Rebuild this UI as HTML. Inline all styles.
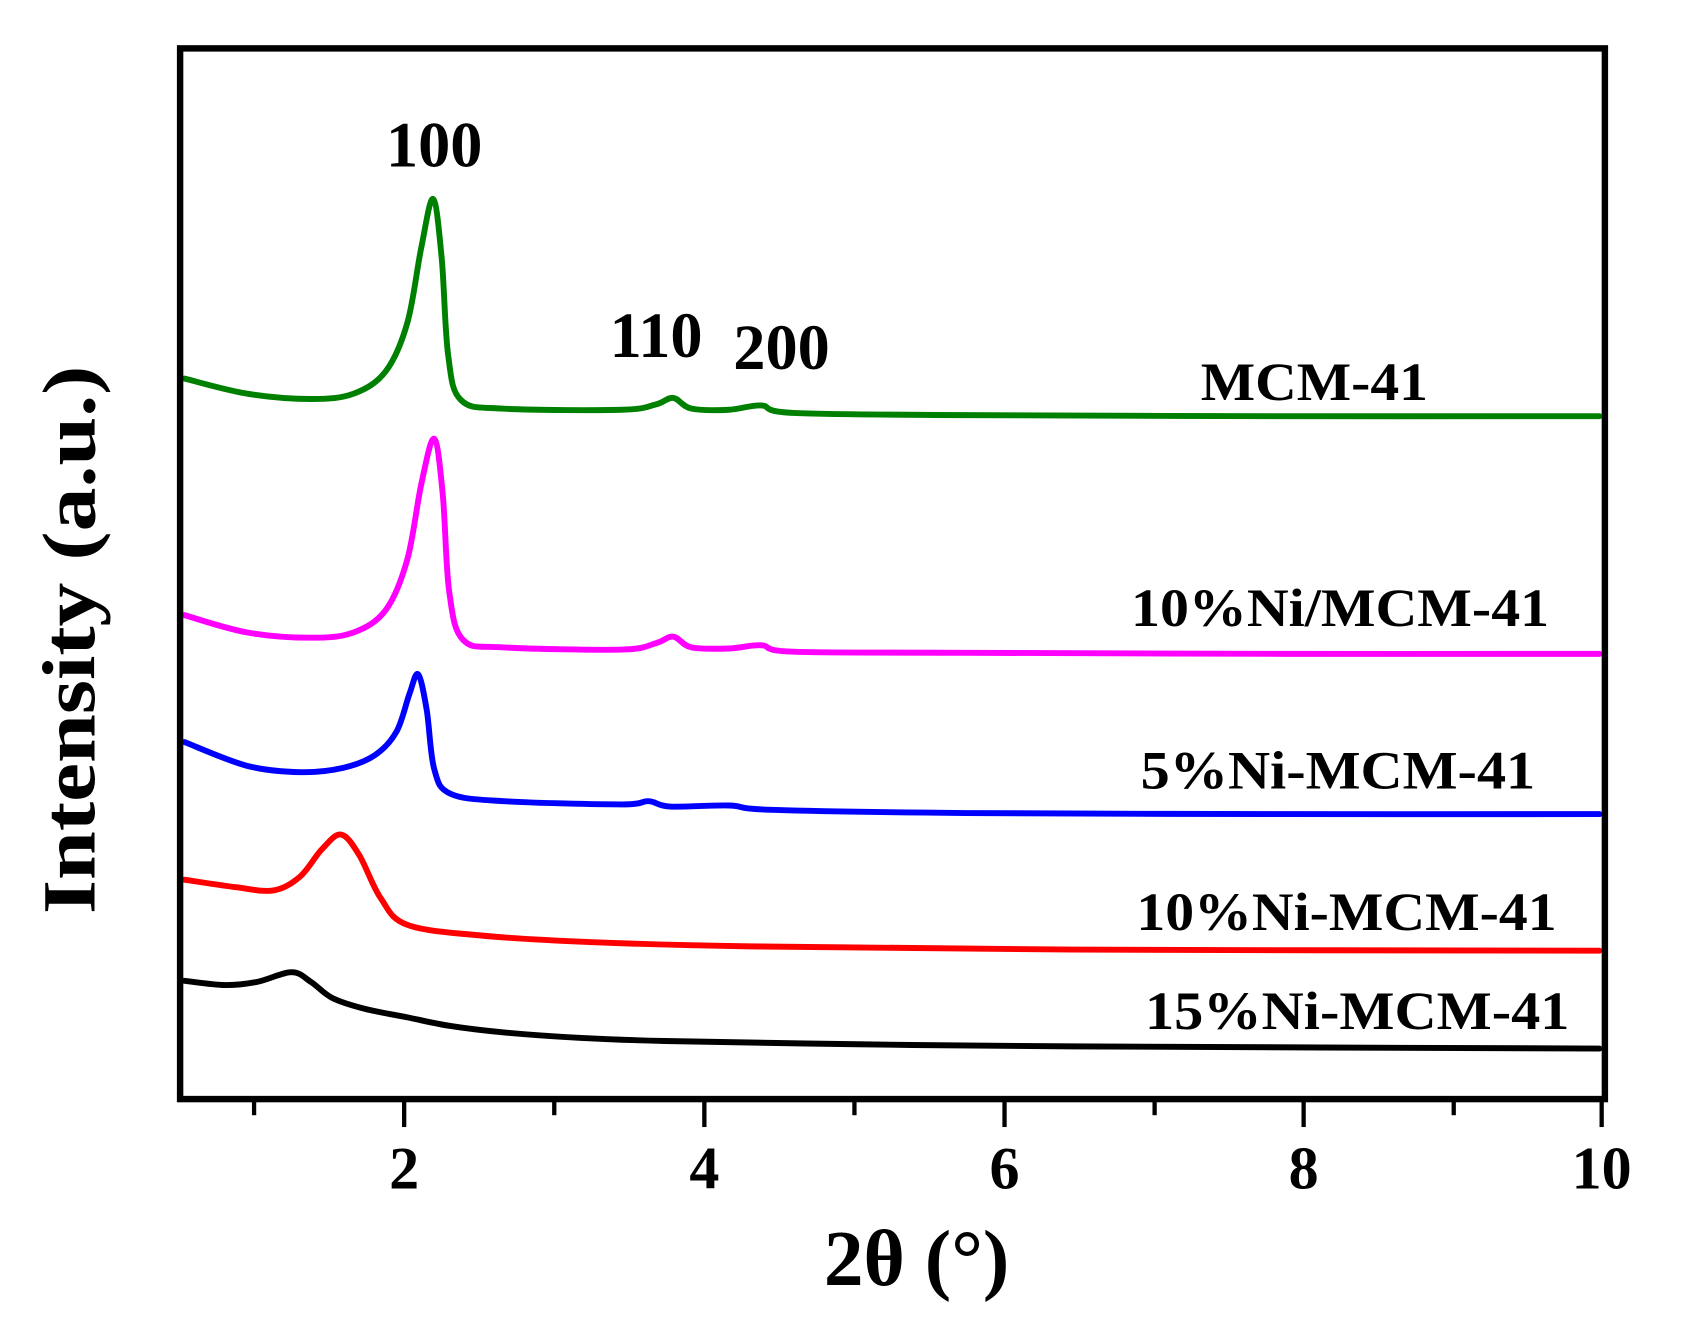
<!DOCTYPE html>
<html><head><meta charset="utf-8"><style>
html,body{margin:0;padding:0;background:#fff;}
svg{display:block;}
text{font-family:"Liberation Serif",serif;font-weight:bold;fill:#000;}
</style></head><body>
<svg id="s" width="1681" height="1326" viewBox="0 0 1568 1233" preserveAspectRatio="none" xmlns="http://www.w3.org/2000/svg">
<rect x="0" y="0" width="1568" height="1233" fill="#fff"/>
<g id="curves" fill="none" stroke-width="5.5" stroke-linejoin="round" stroke-linecap="round"></g>
<rect x="168" y="45" width="1329" height="977" fill="none" stroke="#000" stroke-width="6"/>
<g stroke="#000" stroke-width="4">
<line x1="237" y1="1022" x2="237" y2="1037"/>
<line x1="377" y1="1022" x2="377" y2="1048"/>
<line x1="517" y1="1022" x2="517" y2="1037"/>
<line x1="657" y1="1022" x2="657" y2="1048"/>
<line x1="797" y1="1022" x2="797" y2="1037"/>
<line x1="937" y1="1022" x2="937" y2="1048"/>
<line x1="1077" y1="1022" x2="1077" y2="1037"/>
<line x1="1216" y1="1022" x2="1216" y2="1048"/>
<line x1="1356" y1="1022" x2="1356" y2="1037"/>
<line x1="1494" y1="1022" x2="1494" y2="1048"/>
</g>
<g font-size="56" text-anchor="middle">
<text x="377" y="1105">2</text>
<text x="657" y="1105">4</text>
<text x="937" y="1105">6</text>
<text x="1216" y="1105">8</text>
<text x="1494" y="1105">10</text>
</g>
<text x="855" y="1195" font-size="74" text-anchor="middle">2θ (°)</text>
<text transform="translate(88,595) rotate(-90)" font-size="70" text-anchor="middle" textLength="510" lengthAdjust="spacingAndGlyphs">Intensity (a.u.)</text>
<text x="405" y="155" font-size="60" text-anchor="middle">100</text>
<text x="612" y="332" font-size="60" text-anchor="middle">110</text>
<text x="729" y="343" font-size="60" text-anchor="middle">200</text>
<g font-size="50" text-anchor="middle">
<text x="1226" y="372" textLength="212" lengthAdjust="spacingAndGlyphs">MCM-41</text>
<text x="1250" y="582" textLength="390" lengthAdjust="spacingAndGlyphs">10%Ni/MCM-41</text>
<text x="1248" y="733" textLength="368" lengthAdjust="spacingAndGlyphs">5%Ni-MCM-41</text>
<text x="1256" y="865" textLength="392" lengthAdjust="spacingAndGlyphs">10%Ni-MCM-41</text>
<text x="1266" y="957" textLength="396" lengthAdjust="spacingAndGlyphs">15%Ni-MCM-41</text>
</g>
</svg>
<script>
var series=[
["#008000",[[172,352],[230,366],[290,371],[330,366],[360,345],[380,300],[393,230],[404,185],[412,240],[418,330],[430,372],[470,380],[580,381],[612,376],[628,370],[645,380],[680,381],[710,377],[740,384],[900,386],[1200,387],[1492,387]]],
["#ff00ff",[[172,572],[230,588],[290,593],[330,588],[360,567],[380,520],[393,450],[405,408],[413,460],[419,550],[432,595],[470,602],[580,604],[612,598],[628,592],[645,602],[680,603],[710,600],[740,606],[900,607],[1200,608],[1492,608]]],
["#0000ff",[[172,690],[230,712],[280,718],[320,714],[350,702],[370,680],[382,645],[390,627],[398,660],[405,715],[420,738],[470,745],[580,748],[605,745],[625,750],[680,749],[720,753],[900,756],[1200,757],[1492,757]]],
["#ff0000",[[172,818],[220,825],[255,828],[280,815],[300,790],[318,776],[335,795],[355,835],[380,860],[450,870],[550,876],[700,880],[1000,883],[1492,884]]],
["#000000",[[172,912],[210,916],[240,913],[272,904],[290,913],[310,928],[340,938],[380,946],[420,954],[470,960],[540,965],[620,968],[800,971],[1000,973],[1492,975]]]
];
var g=document.getElementById('curves');
series.forEach(function(s){
 var p=s[1],d="M"+p[0][0]+","+p[0][1];
 for(var i=0;i<p.length-1;i++){
  var p0=p[i-1]||p[i],p1=p[i],p2=p[i+1],p3=p[i+2]||p2;
  var c1x=p1[0]+(p2[0]-p0[0])/6,c1y=p1[1]+(p2[1]-p0[1])/6;
  var c2x=p2[0]-(p3[0]-p1[0])/6,c2y=p2[1]-(p3[1]-p1[1])/6;
  d+=" C"+c1x+","+c1y+" "+c2x+","+c2y+" "+p2[0]+","+p2[1];
 }
 var e=document.createElementNS("http://www.w3.org/2000/svg","path");
 e.setAttribute("d",d);e.setAttribute("stroke",s[0]);g.appendChild(e);
});
</script>
</body></html>
